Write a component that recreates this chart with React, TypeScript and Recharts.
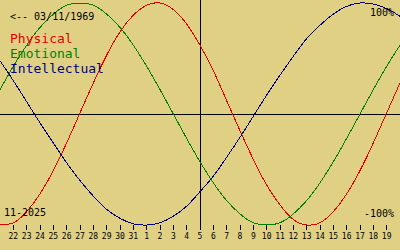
import { LineChart, Line, XAxis, YAxis, ReferenceLine } from "recharts";

// Oct 21 .. Nov 20 (first and last sit on the chart edges, unlabelled)
const days = [
  "21", "22", "23", "24", "25", "26", "27", "28", "29", "30", "31",
  "1", "2", "3", "4", "5", "6", "7", "8", "9", "10",
  "11", "12", "13", "14", "15", "16", "17", "18", "19", "20",
];

const physical = [
  -1.0, -0.98, -0.88, -0.72, -0.51, -0.26, 0.01, 0.28, 0.53, 0.74, 0.89,
  0.98, 1.0, 0.94, 0.81, 0.62, 0.39, 0.12, -0.15, -0.41, -0.64,
  -0.82, -0.95, -1.0, -0.98, -0.88, -0.72, -0.51, -0.26, 0.01, 0.28,
];

const emotional = [
  0.22, 0.43, 0.62, 0.78, 0.9, 0.98, 1.0, 0.98, 0.9, 0.78, 0.62,
  0.43, 0.22, 0.0, -0.22, -0.43, -0.62, -0.78, -0.9, -0.98, -1.0,
  -0.98, -0.9, -0.78, -0.62, -0.43, -0.22, 0.0, 0.22, 0.43, 0.62,
];

const intellectual = [
  0.48, 0.3, 0.11, -0.08, -0.26, -0.44, -0.6, -0.74, -0.86, -0.94, -0.99,
  -1.0, -0.98, -0.92, -0.83, -0.7, -0.56, -0.39, -0.21, -0.02, 0.17,
  0.35, 0.52, 0.68, 0.8, 0.9, 0.97, 1.0, 0.99, 0.95, 0.88,
];

const labelTicks = days.map((_, i) => i).slice(1, -1);
const todayIndex = 15;

const BG = "#e0d084";
const RED = "#e00000";
const GREEN = "#008000";
const BLUE = "#000080";
const mono = "'DejaVu Sans Mono', 'Liberation Mono', monospace";

export default function App() {
  const data = days.map((d, i) => ({
    idx: i,
    day: d,
    physical: physical[i],
    emotional: emotional[i],
    intellectual: intellectual[i],
  }));

  return (
    <div style={{ position: "fixed", left: 0, top: 0, width: 400, height: 250, background: BG }}>
      <LineChart width={400} height={250} data={data} margin={{ top: 3, right: 0, bottom: 0, left: 0 }}>
        <XAxis
          dataKey="idx"
          type="number"
          domain={[0, 30]}
          ticks={labelTicks}
          tickFormatter={(i) => days[i]}
          axisLine={false}
          tickLine={{ stroke: "#000", shapeRendering: "crispEdges" }}
          tickSize={5}
          tickMargin={3}
          height={25}
          interval={0}
          tick={{ fill: "#000", fontSize: 8, fontFamily: mono }}
        />
        <YAxis hide domain={[-1, 1]} />
        <ReferenceLine y={0} stroke="#000" shapeRendering="crispEdges" />
        <ReferenceLine
          segment={[{ x: todayIndex, y: 1.03 }, { x: todayIndex, y: -1 }]}
          stroke="#000"
          ifOverflow="visible"
          shapeRendering="crispEdges"
        />
        <Line type="natural" dataKey="physical" stroke={RED} strokeWidth={1} dot={false} isAnimationActive={false} shapeRendering="crispEdges" />
        <Line type="natural" dataKey="emotional" stroke={GREEN} strokeWidth={1} dot={false} isAnimationActive={false} shapeRendering="crispEdges" />
        <Line type="natural" dataKey="intellectual" stroke={BLUE} strokeWidth={1} dot={false} isAnimationActive={false} shapeRendering="crispEdges" />
      </LineChart>
      <svg width={400} height={250} style={{ position: "absolute", left: 0, top: 0, pointerEvents: "none" }}>
        <g fontFamily={mono}>
          <text x={10} y={20} fontSize={10} fill="#000">{"<-- 03/11/1969"}</text>
          <text x={10} y={43} fontSize={13} fill={RED}>Physical</text>
          <text x={10} y={58} fontSize={13} fill={GREEN}>Emotional</text>
          <text x={10} y={73} fontSize={13} fill={BLUE}>Intellectual</text>
          <text x={394} y={16} fontSize={10} fill="#000" textAnchor="end">100%</text>
          <text x={394} y={217} fontSize={10} fill="#000" textAnchor="end">-100%</text>
          <text x={4} y={216} fontSize={10} fill="#000">11-2025</text>
        </g>
      </svg>
    </div>
  );
}
